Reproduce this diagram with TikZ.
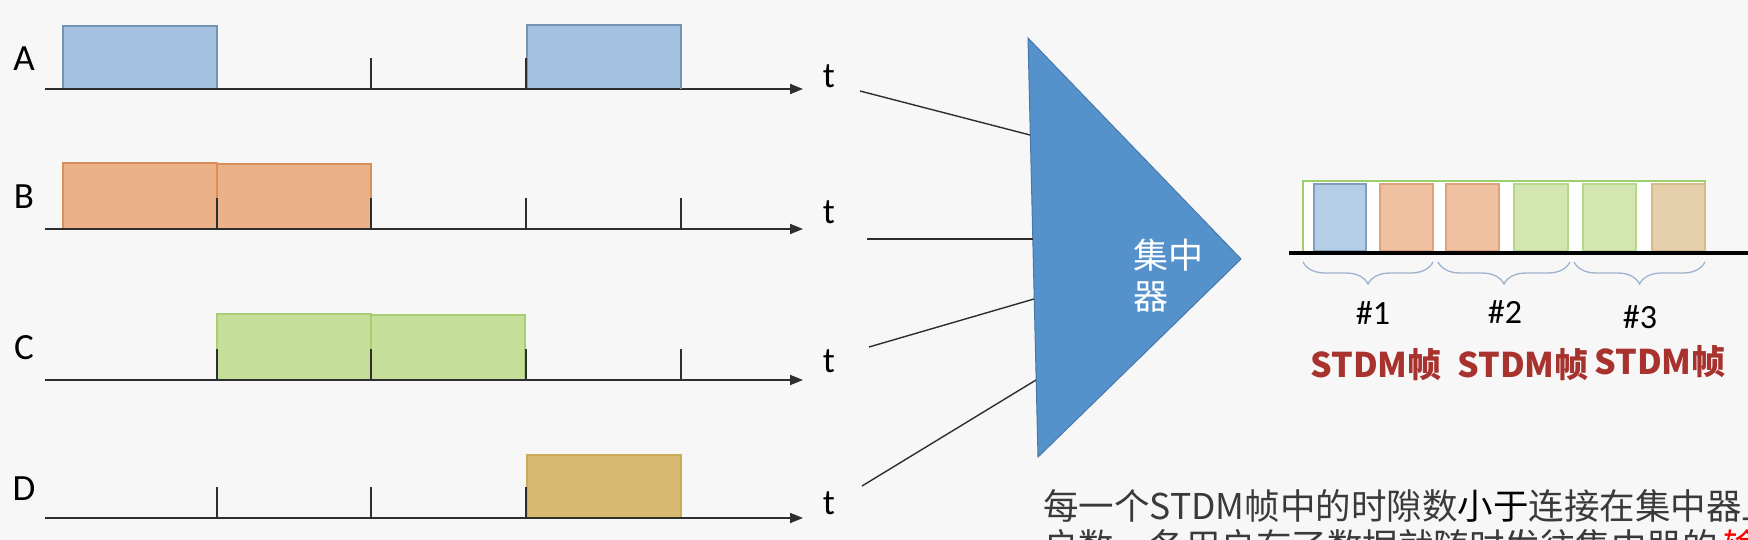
\documentclass[tikz,border=0pt]{standalone}
\usepackage{fontspec}
\setmainfont{Carlito}
\newfontfamily\cjk{Noto Sans CJK SC}
\usetikzlibrary{arrows.meta,decorations.pathreplacing}
\definecolor{bgc}{HTML}{F7F7F7}
\definecolor{axisc}{HTML}{2E2E2E}
\definecolor{Afill}{HTML}{A4C2DF}\definecolor{Adraw}{HTML}{7494B6}
\definecolor{Bfill}{HTML}{EBB189}\definecolor{Bdraw}{HTML}{D98E5C}
\definecolor{Cfill}{HTML}{C5DF9A}\definecolor{Cdraw}{HTML}{A6CF74}
\definecolor{Dfill}{HTML}{D7B971}\definecolor{Ddraw}{HTML}{CCAA5C}
\definecolor{sA}{HTML}{B4CEE5}\definecolor{sAd}{HTML}{7F9DBD}
\definecolor{sB}{HTML}{EFC1A0}\definecolor{sBd}{HTML}{DFA37B}
\definecolor{sC}{HTML}{D3E6B0}\definecolor{sCd}{HTML}{B3D88C}
\definecolor{sD}{HTML}{E6D0AC}\definecolor{sDd}{HTML}{D6BA8A}
\definecolor{framec}{HTML}{9ECF6E}
\definecolor{trif}{HTML}{5592CC}\definecolor{trid}{HTML}{4878AA}
\definecolor{bracec}{HTML}{9DB3CE}
\definecolor{redc}{HTML}{A8322D}
\definecolor{textc}{HTML}{3A3A3A}
\begin{document}
\begin{tikzpicture}[x=1pt,y=-1pt,
  axis/.style={line width=1.8pt, draw=axisc, -{Triangle[length=13pt,width=10pt]}},
  tickl/.style={line width=1.4pt, draw=axisc},
  conn/.style={line width=1.4pt, draw=axisc},
  rowlbl/.style={font=\fontsize{37}{40}\selectfont, inner sep=0pt, text=black},
  tlbl/.style={font=\fontsize{36}{40}\selectfont, inner sep=0pt, text=black},
  boxA/.style={fill=Afill, draw=Adraw, line width=1.3pt},
  boxB/.style={fill=Bfill, draw=Bdraw, line width=1.3pt},
  boxC/.style={fill=Cfill, draw=Cdraw, line width=1.3pt},
  boxD/.style={fill=Dfill, draw=Ddraw, line width=1.3pt},
  slotA/.style={fill=sA, draw=sAd, line width=1.2pt},
  slotB/.style={fill=sB, draw=sBd, line width=1.2pt},
  slotC/.style={fill=sC, draw=sCd, line width=1.2pt},
  slotD/.style={fill=sD, draw=sDd, line width=1.2pt},
  bracestyle/.style={draw=bracec, line width=1.3pt, decorate, decoration={brace, mirror, amplitude=22pt, aspect=0.5}},
  numlbl/.style={font=\fontsize{34}{38}\selectfont, inner sep=0pt, text=black},
  stdmlbl/.style={font=\cjk\bfseries\fontsize{34}{38}\selectfont, inner sep=0pt, text=redc},
  conclbl/.style={font=\cjk\fontsize{35}{40}\selectfont, inner sep=0pt, text=white, anchor=west},
  bodytext/.style={font=\cjk\fontsize{35.5}{40}\selectfont, inner sep=0pt, text=textc, anchor=west}
]
\useasboundingbox (0,0) rectangle (1748,540);
\clip (0,0) rectangle (1748,540);
\fill[bgc] (0,0) rectangle (1748,540);

% row A
\draw[boxA] (63,26) rectangle (217,89);
\draw[boxA] (527,25) rectangle (681,89);
% row B
\draw[boxB] (63,163) rectangle (217,229);
\draw[boxB] (217,164) rectangle (371,229);
% row C
\draw[boxC] (217,314) rectangle (371,380);
\draw[boxC] (371,315) rectangle (525,380);
% row D
\draw[boxD] (527,455) rectangle (681,518);

% axes with ticks
\foreach \yy in {89,229,380,518}{
  \draw[axis] (45,\yy) -- (803,\yy);
  \foreach \xx in {371,526,681}
    \draw[tickl] (\xx,\yy) -- (\xx,\yy-31);
}
\foreach \yy in {229,380,518}
  \draw[tickl] (217,\yy) -- (217,\yy-31);
% redraw box edges that cover ticks in the reference
\draw[draw=Adraw, line width=1.3pt] (681,25) -- (681,89);
\draw[draw=Adraw, line width=1.3pt] (217,26) -- (217,88);
\draw[draw=Ddraw, line width=1.3pt] (681,455) -- (681,517);

% row labels
\node[rowlbl] (labA) at (24,59) {A};
\node[rowlbl] (labB) at (24,197) {B};
\node[rowlbl] (labC) at (24,348) {C};
\node[rowlbl] (labD) at (24,489) {D};
\node[tlbl] (tA) at (829,76) {t};
\node[tlbl] (tB) at (829,212) {t};
\node[tlbl] (tC) at (829,361) {t};
\node[tlbl] (tD) at (829,503) {t};

% concentrator triangle
\coordinate (triT) at (1028,38);
\coordinate (triP) at (1241,259);
\coordinate (triB) at (1038,457);
\filldraw[fill=trif, draw=trid, line width=1pt] (triT) -- (triP) -- (triB) -- cycle;
\node[conclbl] (conc1) at (1133,255) {集中};
\node[conclbl] (conc2) at (1133,297) {器};

% connectors
\coordinate (s1) at (860,91);  \coordinate (e1) at (1030,135);
\coordinate (s2) at (867,239); \coordinate (e2) at (1033,239);
\coordinate (s3) at (869,347); \coordinate (e3) at (1034,299);
\coordinate (s4) at (862,486); \coordinate (e4) at (1036,380);
\draw[conn] (s1) -- (e1);
\draw[conn] (s2) -- (e2);
\draw[conn] (s3) -- (e3);
\draw[conn] (s4) -- (e4);

% STDM frames
\draw[draw=framec, fill=white!97!bgc, line width=1.3pt] (1303,181) rectangle (1705,253);
\draw[slotA] (1314,184) rectangle (1366,251);
\draw[slotB] (1380,184) rectangle (1433,251);
\draw[slotB] (1446,184) rectangle (1499,251);
\draw[slotC] (1514,184) rectangle (1568,251);
\draw[slotC] (1583,184) rectangle (1636,251);
\draw[slotD] (1652,184) rectangle (1705,251);
\coordinate (lineL) at (1289,253);
\coordinate (lineR) at (1748,253);
\draw[line width=4pt, draw=black] (lineL) -- (lineR);

% braces
\coordinate (b1a) at (1303,262); \coordinate (b1b) at (1433,262);
\coordinate (b2a) at (1438,262); \coordinate (b2b) at (1570,262);
\coordinate (b3a) at (1574,262); \coordinate (b3b) at (1705,262);
\draw[bracestyle] (b1a) -- (b1b);
\draw[bracestyle] (b2a) -- (b2b);
\draw[bracestyle] (b3a) -- (b3b);

\node[numlbl] (n1) at (1373,313) {\#1};
\node[numlbl] (n2) at (1505,312) {\#2};
\node[numlbl] (n3) at (1640,317) {\#3};
\node[stdmlbl] (f1) at (1376,365) {STDM帧};
\node[stdmlbl] (f2) at (1523,365) {STDM帧};
\node[stdmlbl] (f3) at (1660,362) {STDM帧};

% bottom text
\node[bodytext] (txt1) at (1043,506) {每一个STDM帧中的时隙数\textcolor{black}{小于}连接在集中器上};
\node[bodytext] (txt2) at (1043,546) {户数。各用户有了数据就随时发往集中器的\hspace{6pt}\textcolor{red}{输}};
\end{tikzpicture}
\end{document}
